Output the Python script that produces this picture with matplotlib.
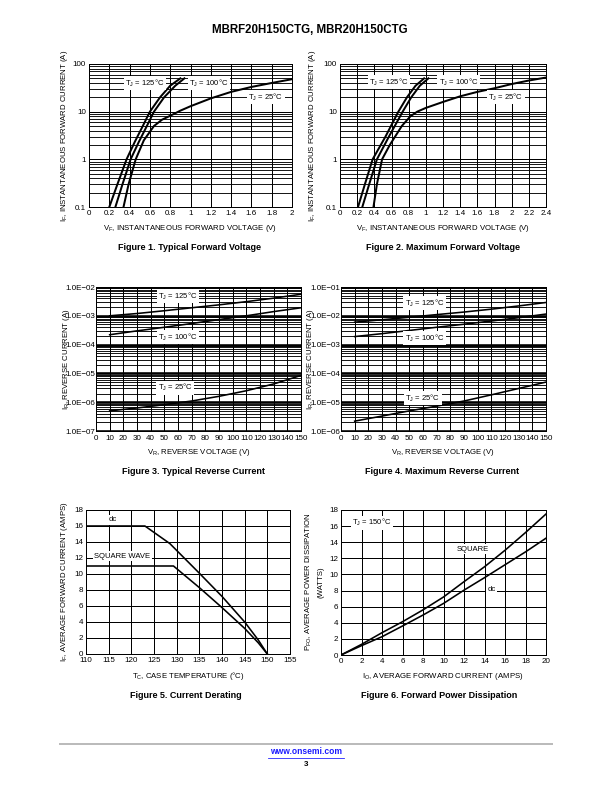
import numpy as np
import matplotlib
matplotlib.use("Agg")
import matplotlib.pyplot as plt
from matplotlib.ticker import FixedLocator, FixedFormatter, NullFormatter

plt.rcParams["font.family"] = ["Liberation Sans", "DejaVu Sans"]
plt.rcParams["mathtext.default"] = "regular"

W, H = 612, 792

# Figure 1 - typical forward voltage (V, A)
f1_v125 = [0.20, 0.28, 0.37, 0.45, 0.53, 0.60, 0.70, 0.80, 0.90]
f1_i125 = [0.1, 0.3, 1.0, 2.3, 5.0, 10, 20, 35, 50]
f1_v100 = [0.26, 0.33, 0.41, 0.49, 0.57, 0.64, 0.74, 0.85, 0.94]
f1_i100 = [0.1, 0.3, 1.0, 2.3, 5.0, 10, 20, 35, 50]
f1_v25 = [0.34, 0.39, 0.46, 0.54, 0.64, 0.72, 0.80, 0.90, 1.0, 1.2, 1.4, 1.6, 1.8, 2.0]
f1_i25 = [0.1, 0.3, 1.0, 2.5, 5.0, 6.8, 8.2, 10.5, 13, 19, 26, 33, 40, 48]

# Figure 2 - maximum forward voltage
f2_v125 = [0.21, 0.29, 0.38, 0.53, 0.68, 0.78, 0.88, 0.98]
f2_i125 = [0.1, 0.3, 1.0, 3.0, 10, 20, 35, 50]
f2_v100 = [0.26, 0.34, 0.43, 0.57, 0.73, 0.83, 0.93, 1.03]
f2_i100 = [0.1, 0.3, 1.0, 3.0, 10, 20, 35, 50]
f2_v25 = [0.39, 0.43, 0.49, 0.58, 0.72, 0.82, 0.90, 1.0, 1.2, 1.4, 1.6, 1.8, 2.0, 2.2, 2.4]
f2_i25 = [0.1, 0.3, 1.0, 2.0, 5.0, 8.0, 10, 12, 16, 21, 26, 31, 38, 45, 52]

# Figure 3 - typical reverse current (V, A)
f3_vr = [10, 30, 50, 70, 90, 110, 130, 150]
f3_i125 = [1.0e-3, 1.2e-3, 1.5e-3, 1.9e-3, 2.4e-3, 3.1e-3, 4.1e-3, 5.6e-3]
f3_i100 = [2.2e-4, 3.0e-4, 4.0e-4, 5.4e-4, 7.4e-4, 1.0e-3, 1.4e-3, 1.9e-3]
f3_i25 = [5.0e-7, 6.3e-7, 8.2e-7, 1.1e-6, 1.6e-6, 2.5e-6, 4.3e-6, 8.5e-6]

# Figure 4 - maximum reverse current
f4_vr = [10, 30, 50, 70, 90, 110, 130, 150]
f4_i125 = [6.0e-3, 7.3e-3, 8.9e-3, 1.1e-2, 1.35e-2, 1.7e-2, 2.2e-2, 2.9e-2]
f4_i100 = [1.9e-3, 2.4e-3, 3.1e-3, 4.0e-3, 5.1e-3, 6.6e-3, 8.6e-3, 1.15e-2]
f4_i25 = [2.2e-6, 3.3e-6, 5.0e-6, 7.3e-6, 1.1e-5, 1.8e-5, 3.0e-5, 5.0e-5]

# Figure 5 - current derating (degC, A)
f5_t_dc = [110, 123, 128.5, 135, 140, 145, 148, 150]
f5_i_dc = [16, 16, 13.8, 10.1, 7.2, 4.0, 1.75, 0]
f5_t_sq = [110, 129.3, 135, 140, 145, 148, 150]
f5_i_sq = [11.0, 11.0, 8.3, 5.8, 3.2, 1.4, 0]

# Figure 6 - forward power dissipation (A, W)
f6_io = [0, 2, 4, 6, 8, 10, 12, 14, 16, 18, 20]
f6_p_sq = [0, 1.32, 2.77, 4.13, 5.6, 7.2, 9.1, 10.95, 13.0, 15.2, 17.5]
f6_p_dc = [0, 1.16, 2.27, 3.6, 4.96, 6.4, 8.05, 9.6, 11.2, 12.8, 14.5]

TICK_FS = 8
AXLAB_FS = 7.8
CAP_FS = 9

fig = plt.figure(figsize=(W / 72, H / 72), dpi=72)


def add_ax(x0, y0, x1, y1):
    # pixel box -> figure fraction
    return fig.add_axes([x0 / W, 1 - y1 / H, (x1 - x0) / W, (y1 - y0) / H])


def ftext(x, y, s, **kw):
    kw.setdefault("ha", "center")
    kw.setdefault("va", "center")
    fig.text(x / W, 1 - y / H, s, **kw)


def style(ax):
    for sp in ax.spines.values():
        sp.set_linewidth(1.0)
        sp.set_color("black")
    ax.tick_params(which="both", length=0, labelsize=TICK_FS, pad=3)
    ax.set_axisbelow(True)


def label(ax, x, y, s):
    ax.text(x, y, s, fontsize=7.6, ha="center", va="center",
            bbox=dict(facecolor="white", edgecolor="none", pad=1.5), zorder=4)


def log_minor(lo, hi):
    out = []
    for d in range(lo, hi):
        for k in range(2, 10):
            out.append(k * 10.0 ** d)
    return out


def forward_axes(ax, xmax):
    ax.set_yscale("log")
    ax.set_ylim(0.1, 100)
    ax.set_xlim(0, xmax)
    ax.yaxis.set_major_locator(FixedLocator([0.1, 1, 10, 100]))
    ax.yaxis.set_major_formatter(FixedFormatter(["0.1", "1", "10", "100"]))
    ax.yaxis.set_minor_locator(FixedLocator(log_minor(-1, 2)))
    ax.yaxis.set_minor_formatter(NullFormatter())
    xt = np.round(np.arange(0, xmax + 0.01, 0.2), 1)
    ax.set_xticks(xt)
    ax.set_xticklabels([("%g" % v) for v in xt])
    ax.grid(True, which="major", color="black", linewidth=1.0)
    ax.grid(True, which="minor", axis="y", color="black", linewidth=0.9)
    style(ax)


def reverse_axes(ax, lo, hi):
    ax.set_yscale("log")
    ax.set_ylim(10.0 ** lo, 10.0 ** hi)
    ax.set_xlim(0, 150)
    maj = [10.0 ** d for d in range(lo, hi + 1)]
    ax.yaxis.set_major_locator(FixedLocator(maj))
    ax.yaxis.set_major_formatter(FixedFormatter(["1.0E\u2212%02d" % (-d) for d in range(lo, hi + 1)]))
    ax.yaxis.set_minor_locator(FixedLocator(log_minor(lo, hi)))
    ax.yaxis.set_minor_formatter(NullFormatter())
    ax.set_xticks(range(0, 151, 10))
    ax.grid(True, which="major", axis="y", color="black", linewidth=2.6)
    ax.grid(True, which="major", axis="x", color="black", linewidth=1.0)
    ax.grid(True, which="minor", axis="y", color="black", linewidth=0.9)
    style(ax)
    ax.tick_params(axis="y", pad=1)
    ax.tick_params(axis="x", pad=4)


def linear_axes(ax, xlim, xstep):
    ax.set_xlim(*xlim)
    ax.set_ylim(0, 18)
    ax.set_xticks(np.arange(xlim[0], xlim[1] + 0.1, xstep))
    ax.set_yticks(range(0, 19, 2))
    ax.grid(True, color="black", linewidth=1.0)
    style(ax)


# Title
ftext(310, 30, "MBRF20H150CTG, MBR20H150CTG", fontsize=11.5, fontweight="bold")

# ---- Figure 1
ax1 = add_ax(89, 64, 292, 207)
forward_axes(ax1, 2.0)
ax1.plot(f1_v125, f1_i125, color="black", lw=2.0, zorder=3)
ax1.plot(f1_v100, f1_i100, color="black", lw=2.0, zorder=3)
ax1.plot(f1_v25, f1_i25, color="black", lw=2.0, zorder=3)
label(ax1, 0.55, 40, "T$_J$ = 125°C")
label(ax1, 1.18, 40, "T$_J$ = 100°C")
label(ax1, 1.74, 20, "T$_J$ = 25°C")
ftext(64, 136, "I$_F$, INSTANTANEOUS FORWARD CURRENT (A)", fontsize=AXLAB_FS, rotation=90)
ftext(190, 229, "V$_F$, INSTANTANEOUS FORWARD VOLTAGE (V)", fontsize=AXLAB_FS)
ftext(190, 248, "Figure 1. Typical Forward Voltage", fontsize=CAP_FS, fontweight="bold")

# ---- Figure 2
ax2 = add_ax(340, 64, 546, 207)
forward_axes(ax2, 2.4)
ax2.plot(f2_v125, f2_i125, color="black", lw=2.0, zorder=3)
ax2.plot(f2_v100, f2_i100, color="black", lw=2.0, zorder=3)
ax2.plot(f2_v25, f2_i25, color="black", lw=2.0, zorder=3)
label(ax2, 0.57, 42, "T$_J$ = 125°C")
label(ax2, 1.38, 42, "T$_J$ = 100°C")
label(ax2, 1.93, 20, "T$_J$ = 25°C")
ftext(313, 136, "I$_F$, INSTANTANEOUS FORWARD CURRENT (A)", fontsize=AXLAB_FS, rotation=90)
ftext(443, 229, "V$_F$, INSTANTANEOUS FORWARD VOLTAGE (V)", fontsize=AXLAB_FS)
ftext(443, 248, "Figure 2. Maximum Forward Voltage", fontsize=CAP_FS, fontweight="bold")

# ---- Figure 3
ax3 = add_ax(96, 287, 301, 431)
reverse_axes(ax3, -7, -2)
ax3.plot(f3_vr, f3_i125, color="black", lw=1.6, zorder=3)
ax3.plot(f3_vr, f3_i100, color="black", lw=1.6, zorder=3)
ax3.plot(f3_vr, f3_i25, color="black", lw=1.6, zorder=3)
label(ax3, 60, 4.8e-3, "T$_J$ = 125°C")
label(ax3, 60, 1.8e-4, "T$_J$ = 100°C")
label(ax3, 58, 3.2e-6, "T$_J$ = 25°C")
ftext(66, 359, "I$_R$, REVERSE CURRENT (A)", fontsize=AXLAB_FS, rotation=90)
ftext(199, 452, "V$_R$, REVERSE VOLTAGE (V)", fontsize=AXLAB_FS)
ftext(193, 471, "Figure 3. Typical Reverse Current", fontsize=CAP_FS, fontweight="bold")

# ---- Figure 4
ax4 = add_ax(341, 287, 546, 431)
reverse_axes(ax4, -6, -1)
ax4.plot(f4_vr, f4_i125, color="black", lw=1.6, zorder=3)
ax4.plot(f4_vr, f4_i100, color="black", lw=1.6, zorder=3)
ax4.plot(f4_vr, f4_i25, color="black", lw=1.6, zorder=3)
label(ax4, 61, 2.8e-2, "T$_J$ = 125°C")
label(ax4, 61, 1.7e-3, "T$_J$ = 100°C")
label(ax4, 60, 1.4e-5, "T$_J$ = 25°C")
ftext(310, 359, "I$_R$, REVERSE CURRENT (A)", fontsize=AXLAB_FS, rotation=90)
ftext(443, 452, "V$_R$, REVERSE VOLTAGE (V)", fontsize=AXLAB_FS)
ftext(442, 471, "Figure 4. Maximum Reverse Current", fontsize=CAP_FS, fontweight="bold")

# ---- Figure 5
ax5 = add_ax(86, 510, 290, 654)
linear_axes(ax5, (110, 155), 5)
ax5.plot(f5_t_dc, f5_i_dc, color="black", lw=1.6, zorder=3)
ax5.plot(f5_t_sq, f5_i_sq, color="black", lw=1.6, zorder=3)
label(ax5, 116, 16.8, "dc")
label(ax5, 118, 12.2, "SQUARE WAVE")
ftext(65, 582, "I$_F$, AVERAGE FORWARD CURRENT (AMPS)", fontsize=AXLAB_FS, rotation=90)
ftext(188, 676, "T$_C$, CASE TEMPERATURE (°C)", fontsize=AXLAB_FS)
ftext(186, 696, "Figure 5. Current Derating", fontsize=CAP_FS, fontweight="bold")

# ---- Figure 6
ax6 = add_ax(341, 510, 546, 655)
linear_axes(ax6, (0, 20), 2)
ax6.plot(f6_io, f6_p_sq, color="black", lw=1.6, zorder=3)
ax6.plot(f6_io, f6_p_dc, color="black", lw=1.6, zorder=3)
label(ax6, 3.0, 16.4, "T$_J$ = 150°C")
label(ax6, 12.9, 13.1, "SQUARE")
label(ax6, 14.7, 8.1, "dc")
ftext(309, 582, "P$_{FO}$, AVERAGE POWER DISSIPATION", fontsize=AXLAB_FS, rotation=90)
ftext(321, 582, "(WATTS)", fontsize=AXLAB_FS, rotation=90)
ftext(443, 676, "I$_O$, AVERAGE FORWARD CURRENT (AMPS)", fontsize=AXLAB_FS)
ftext(439, 696, "Figure 6. Forward Power Dissipation", fontsize=CAP_FS, fontweight="bold")

# footer
fig.add_artist(plt.Line2D([60 / W, 552 / W], [1 - 744 / H, 1 - 744 / H],
                          color="#bbbbbb", lw=2))
ftext(306, 752, "www.onsemi.com", fontsize=8.5, fontweight="bold", color="#1a1aff")
fig.add_artist(plt.Line2D([268 / W, 344 / W], [1 - 757.5 / H, 1 - 757.5 / H],
                          color="#1a1aff", lw=0.8))
ftext(306, 764, "3", fontsize=8, fontweight="bold")

fig.savefig("out.png", dpi=72)
